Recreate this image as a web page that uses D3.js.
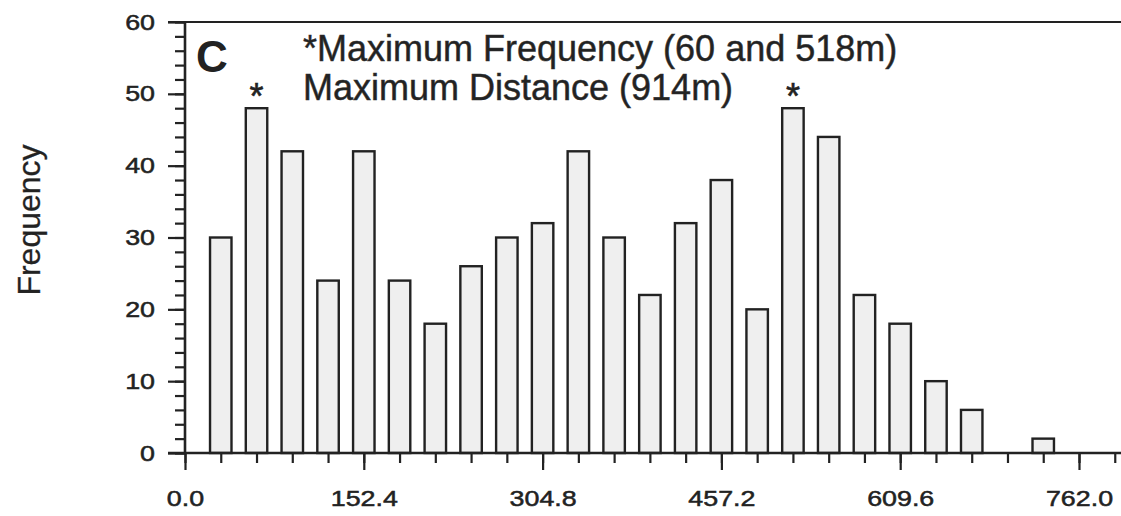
<!DOCTYPE html>
<html>
<head>
<meta charset="utf-8">
<script src="https://cdn.jsdelivr.net/npm/d3@7"></script>
<style>
  html, body { margin: 0; padding: 0; background: #fff; }
  svg { display: block; }
  text { font-family: "Liberation Sans", Arial, Helvetica, sans-serif; fill: #222; }
</style>
</head>
<body>
<svg id="chart" width="1121" height="516"></svg>
<script>
// ---- data ----
const distances = [30.48, 60.96, 91.44, 121.92, 152.4, 182.88, 213.36, 243.84, 274.32, 304.8,
                   335.28, 365.76, 396.24, 426.72, 457.2, 487.68, 518.16, 548.64, 579.12, 609.6,
                   640.08, 670.56, 701.04, 731.52];
const frequencies = [30, 48, 42, 24, 42, 24, 18, 26, 30, 32, 42, 30, 22, 32, 38, 20, 48, 44, 22, 18, 10, 6, 0, 2];
const xTickValues = [0, 152.4, 304.8, 457.2, 609.6, 762.0];
const xTickLabels = ["0.0", "152.4", "304.8", "457.2", "609.6", "762.0"];
const xMinorTicks = [0, 30.48, 60.96, 91.44, 121.92, 152.4, 182.88, 213.36, 243.84, 274.32, 304.8,
                     335.28, 365.76, 396.24, 426.72, 457.2, 487.68, 518.16, 548.64, 579.12, 609.6,
                     640.08, 670.56, 701.04, 731.52, 762.0, 792.48];
const yTickValues = [0, 10, 20, 30, 40, 50, 60];
const yMinorTicks = [0, 2, 4, 6, 8, 10, 12, 14, 16, 18, 20, 22, 24, 26, 28, 30, 32, 34, 36, 38, 40,
                     42, 44, 46, 48, 50, 52, 54, 56, 58, 60];
const panelLabel = "C";
const noteLines = ["*Maximum Frequency (60 and 518m)", "Maximum Distance (914m)"];
const yTitle = "Frequency";
const binWidth = 30.48;

// ---- layout ----
const svg = d3.select("#chart");
const X0 = 185, X1 = 1121, Y0 = 453, Y1 = 22;
const ink = "#222";
const x = d3.scaleLinear().domain([0, 797.8]).range([X0, X1]);
const y = d3.scaleLinear().domain([0, 60]).range([Y0, Y1]);
const stretch = 1.22;

// bars
const barW = x(binWidth * 0.6) - x(0);
svg.append("g").selectAll("rect")
  .data(frequencies.map((v, i) => ({ d: distances[i], v })).filter(o => o.v > 0))
  .join("rect")
  .attr("x", o => x(o.d) - barW / 2)
  .attr("y", o => y(o.v))
  .attr("width", barW)
  .attr("height", o => y(0) - y(o.v))
  .attr("fill", "#efefef")
  .attr("stroke", ink)
  .attr("stroke-width", 2.4);

// asterisks above max bars
const maxV = d3.max(frequencies);
svg.append("g").selectAll("text")
  .data(frequencies.map((v, i) => ({ d: distances[i], v })).filter(o => o.v === maxV))
  .join("text")
  .attr("x", o => x(o.d))
  .attr("y", o => y(o.v) + 1)
  .attr("text-anchor", "middle")
  .attr("font-size", 36)
  .attr("stroke", ink).attr("stroke-width", 0.6)
  .text("*");

// minor y ticks
const yMinor = svg.append("g").attr("transform", `translate(${X0},0)`)
  .call(d3.axisLeft(y).tickValues(yMinorTicks).tickSize(10).tickFormat(""));
yMinor.select(".domain").remove();
yMinor.selectAll("line").attr("stroke", ink).attr("stroke-width", 2.2);

// major y ticks
const yAx = svg.append("g").attr("transform", `translate(${X0},0)`)
  .call(d3.axisLeft(y).tickValues(yTickValues).tickSize(17).tickPadding(13).tickFormat(d3.format("d")));
yAx.select(".domain").remove();
yAx.selectAll("line").attr("stroke", ink).attr("stroke-width", 2.2);
yAx.selectAll("text")
  .attr("font-size", 22)
  .attr("fill", ink)
  .attr("stroke", ink).attr("stroke-width", 0.5)
  .attr("font-family", null)
  .attr("x", function() { return +d3.select(this).attr("x") / stretch; })
  .attr("transform", `scale(${stretch},1)`);

// minor x ticks
const xMinor = svg.append("g").attr("transform", `translate(0,${Y0})`)
  .call(d3.axisBottom(x).tickValues(xMinorTicks).tickSize(10).tickFormat(""));
xMinor.select(".domain").remove();
xMinor.selectAll("line").attr("stroke", ink).attr("stroke-width", 2.2);

// major x ticks
const xAx = svg.append("g").attr("transform", `translate(0,${Y0})`)
  .call(d3.axisBottom(x).tickValues(xTickValues).tickSize(17).tickPadding(20)
        .tickFormat((d, i) => xTickLabels[i]));
xAx.select(".domain").remove();
xAx.selectAll("line").attr("stroke", ink).attr("stroke-width", 2.2);
xAx.selectAll("text")
  .attr("font-size", 22)
  .attr("fill", ink)
  .attr("stroke", ink).attr("stroke-width", 0.5)
  .attr("font-family", null)
  .attr("transform", `scale(${stretch},1)`)
  .attr("x", 0);

// axis lines (frame left, bottom, top)
svg.append("line").attr("x1", X0).attr("x2", X0).attr("y1", Y1).attr("y2", Y0)
  .attr("stroke", ink).attr("stroke-width", 2.6);
svg.append("line").attr("x1", X0 - 17).attr("x2", X1).attr("y1", Y0).attr("y2", Y0)
  .attr("stroke", ink).attr("stroke-width", 2.6);
svg.append("line").attr("x1", X0 - 17).attr("x2", X1).attr("y1", Y1).attr("y2", Y1)
  .attr("stroke", ink).attr("stroke-width", 2.2);

// panel label
svg.append("text").attr("x", 196).attr("y", 72)
  .attr("font-size", 44).attr("font-weight", "bold").attr("fill", "#333").text(panelLabel);

// annotation lines
svg.append("g").selectAll("text").data(noteLines).join("text")
  .attr("x", 303)
  .attr("y", (d, i) => 61 + i * 39)
  .attr("font-size", 36)
  .attr("fill", "#333")
  .attr("stroke", "#333").attr("stroke-width", 0.5)
  .text(d => d);

// y title
svg.append("text")
  .attr("transform", "translate(40,220) rotate(-90)")
  .attr("text-anchor", "middle")
  .attr("font-size", 32)
  .attr("fill", "#333")
  .attr("stroke", "#333").attr("stroke-width", 0.3)
  .text(yTitle);
</script>
</body>
</html>
